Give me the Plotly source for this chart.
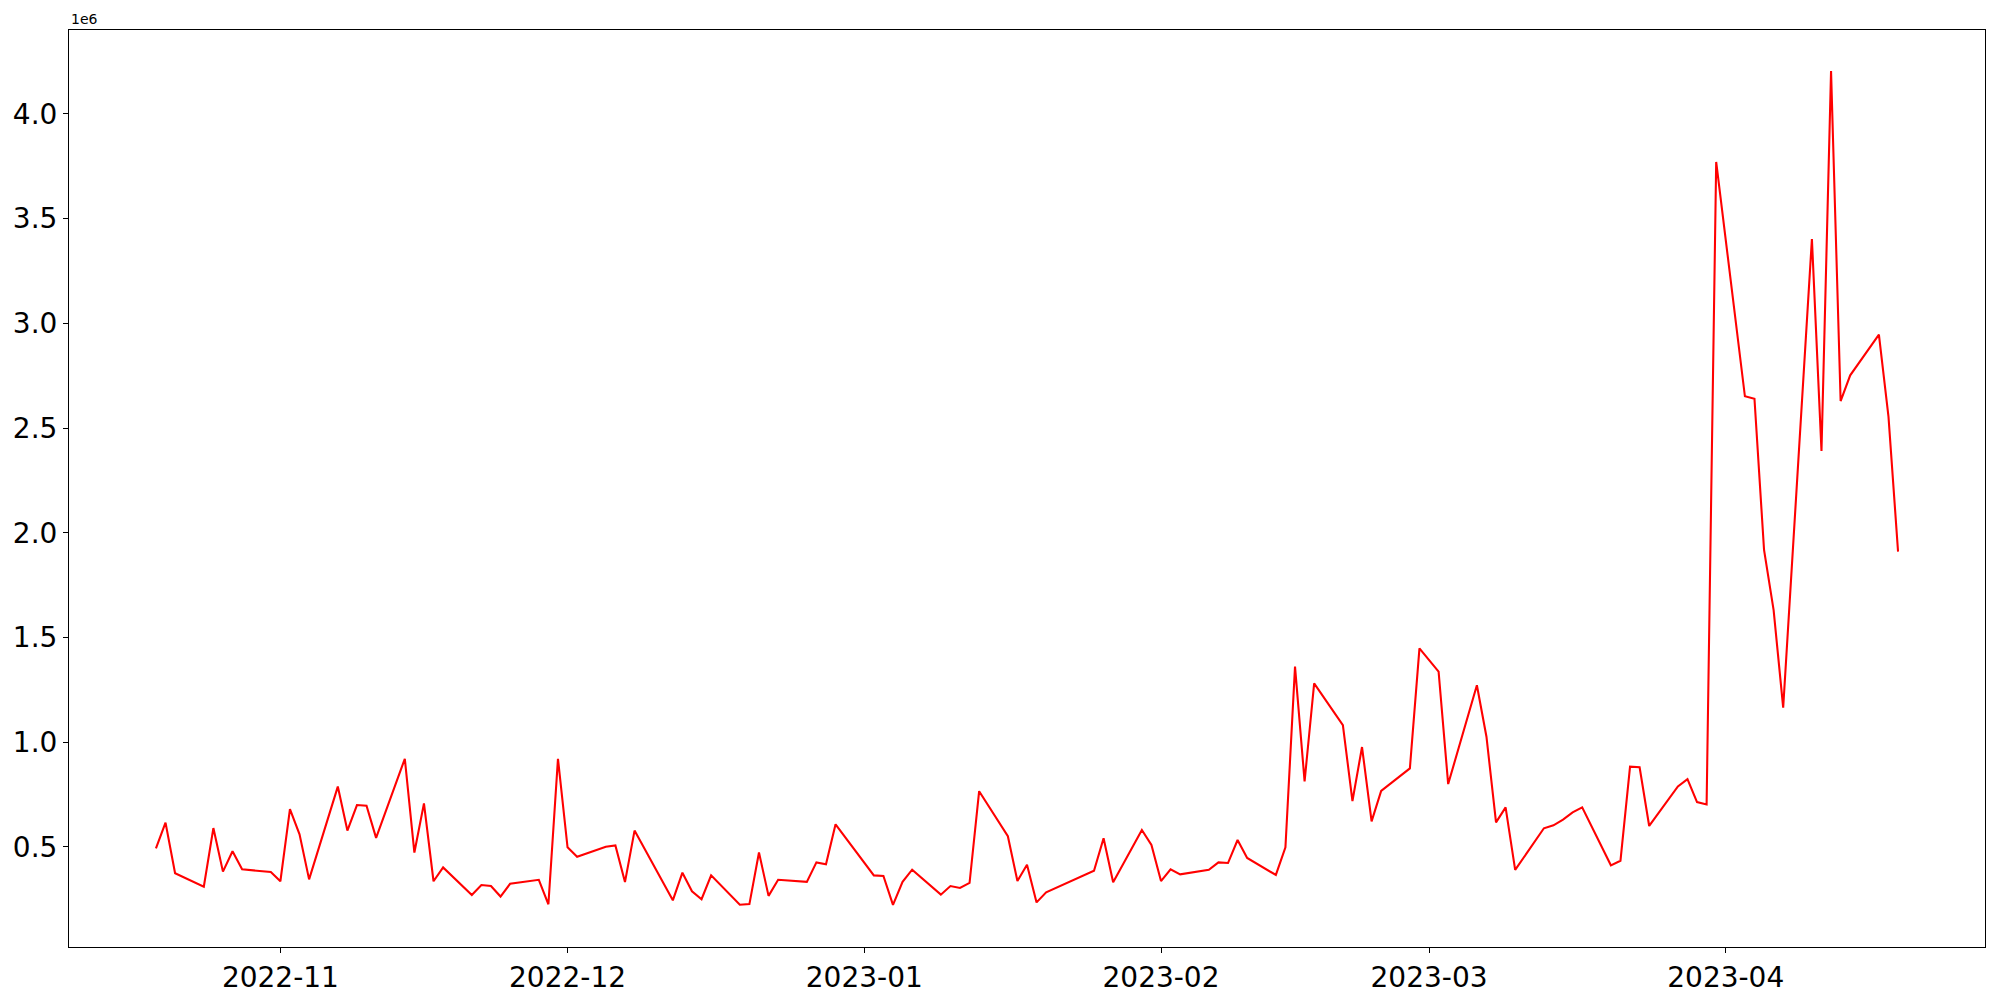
import plotly.graph_objects as go

dates = [
    "2022-10-19", "2022-10-20", "2022-10-21", "2022-10-24", "2022-10-25", "2022-10-26", "2022-10-27", "2022-10-28",
    "2022-10-31", "2022-11-01", "2022-11-02", "2022-11-03", "2022-11-04", "2022-11-07", "2022-11-08", "2022-11-09",
    "2022-11-10", "2022-11-11", "2022-11-14", "2022-11-15", "2022-11-16", "2022-11-17", "2022-11-18", "2022-11-21",
    "2022-11-22", "2022-11-23", "2022-11-24", "2022-11-25", "2022-11-28", "2022-11-29", "2022-11-30", "2022-12-01",
    "2022-12-02", "2022-12-05", "2022-12-06", "2022-12-07", "2022-12-08", "2022-12-12", "2022-12-13", "2022-12-14",
    "2022-12-15", "2022-12-16", "2022-12-19", "2022-12-20", "2022-12-21", "2022-12-22", "2022-12-23", "2022-12-26",
    "2022-12-27", "2022-12-28", "2022-12-29", "2023-01-02", "2023-01-03", "2023-01-04", "2023-01-05", "2023-01-06",
    "2023-01-09", "2023-01-10", "2023-01-11", "2023-01-12", "2023-01-13", "2023-01-16", "2023-01-17", "2023-01-18",
    "2023-01-19", "2023-01-20", "2023-01-25", "2023-01-26", "2023-01-27", "2023-01-30", "2023-01-31", "2023-02-01",
    "2023-02-02", "2023-02-03", "2023-02-06", "2023-02-07", "2023-02-08", "2023-02-09", "2023-02-10", "2023-02-13",
    "2023-02-14", "2023-02-15", "2023-02-16", "2023-02-17", "2023-02-20", "2023-02-21", "2023-02-22", "2023-02-23",
    "2023-02-24", "2023-02-27", "2023-02-28", "2023-03-02", "2023-03-03", "2023-03-06", "2023-03-07", "2023-03-08",
    "2023-03-09", "2023-03-10", "2023-03-13", "2023-03-14", "2023-03-15", "2023-03-16", "2023-03-17", "2023-03-20",
    "2023-03-21", "2023-03-22", "2023-03-23", "2023-03-24", "2023-03-27", "2023-03-28", "2023-03-29", "2023-03-30",
    "2023-03-31", "2023-04-03", "2023-04-04", "2023-04-05", "2023-04-06", "2023-04-07", "2023-04-10", "2023-04-11",
    "2023-04-12", "2023-04-13", "2023-04-14", "2023-04-17", "2023-04-18", "2023-04-19",
]

volumes = [
    493000, 616000, 374000, 310000, 590000, 382000, 479000, 393000,
    380000, 336000, 680000, 560000, 345000, 788000, 578000, 700000,
    697000, 543000, 921000, 473000, 708000, 336000, 402000, 270000,
    318000, 313000, 263000, 324000, 343000, 226000, 921000, 498000,
    453000, 501000, 507000, 332000, 578000, 245000, 377000, 288000,
    250000, 364000, 224000, 227000, 473000, 266000, 343000, 333000,
    426000, 417000, 608000, 364000, 361000, 223000, 333000, 391000,
    272000, 313000, 304000, 328000, 766000, 551000, 337000, 415000,
    235000, 283000, 386000, 541000, 331000, 581000, 509000, 337000,
    393000, 369000, 391000, 426000, 423000, 533000, 447000, 366000,
    498000, 1361000, 813000, 1281000, 1081000, 719000, 977000, 622000,
    767000, 875000, 1448000, 1337000, 800000, 1272000, 1026000, 617000,
    689000, 390000, 589000, 603000, 630000, 665000, 689000, 412000,
    434000, 883000, 880000, 600000, 789000, 824000, 714000, 703000,
    3771000, 2652000, 2640000, 1918000, 1631000, 1165000, 3403000, 2391000,
    4205000, 2629000, 2752000, 2946000, 2555000, 1910000,
]

x_tick_vals = ["2022-11-01", "2022-12-01", "2023-01-01", "2023-02-01", "2023-03-01", "2023-04-01"]
x_tick_text = ["2022-11", "2022-12", "2023-01", "2023-02", "2023-03", "2023-04"]
y_tick_vals = [500000, 1000000, 1500000, 2000000, 2500000, 3000000, 3500000, 4000000]
y_tick_text = ["0.5", "1.0", "1.5", "2.0", "2.5", "3.0", "3.5", "4.0"]

fig = go.Figure()
fig.add_trace(go.Scatter(
    x=dates, y=volumes, mode="lines",
    line=dict(color="#ff0000", width=2.08),
    showlegend=False,
))

axis_common = dict(
    showgrid=False, zeroline=False, showline=True, mirror=True,
    linecolor="black", linewidth=1.1, automargin=False,
    ticks="outside", ticklen=5, tickwidth=1.1, tickcolor="black",
    tickfont=dict(family="DejaVu Sans", size=28, color="black"),
)

fig.update_layout(
    width=2000, height=1000,
    margin=dict(l=69, r=15, t=30, b=53),
    plot_bgcolor="white", paper_bgcolor="white",
    xaxis=dict(
        type="date",
        range=["2022-10-09 22:00", "2023-04-28 02:00"],
        tickmode="array", tickvals=x_tick_vals, ticktext=x_tick_text,
        **axis_common,
    ),
    yaxis=dict(
        range=[22000, 4401000],
        tickmode="array", tickvals=y_tick_vals, ticktext=y_tick_text,
        **axis_common,
    ),
    annotations=[dict(
        text="1e6", xref="paper", yref="paper", x=0, y=1,
        xanchor="left", yanchor="bottom", yshift=1, showarrow=False,
        font=dict(family="DejaVu Sans", size=14, color="black"),
    )],
)

# Remove the browser's default 8px body margin so the 2000x1000 figure fills the window exactly.
fig.write_html(
    "out.html",
    config={"displayModeBar": False},
    post_script="document.body.style.margin='0';document.body.style.overflow='hidden';",
)
